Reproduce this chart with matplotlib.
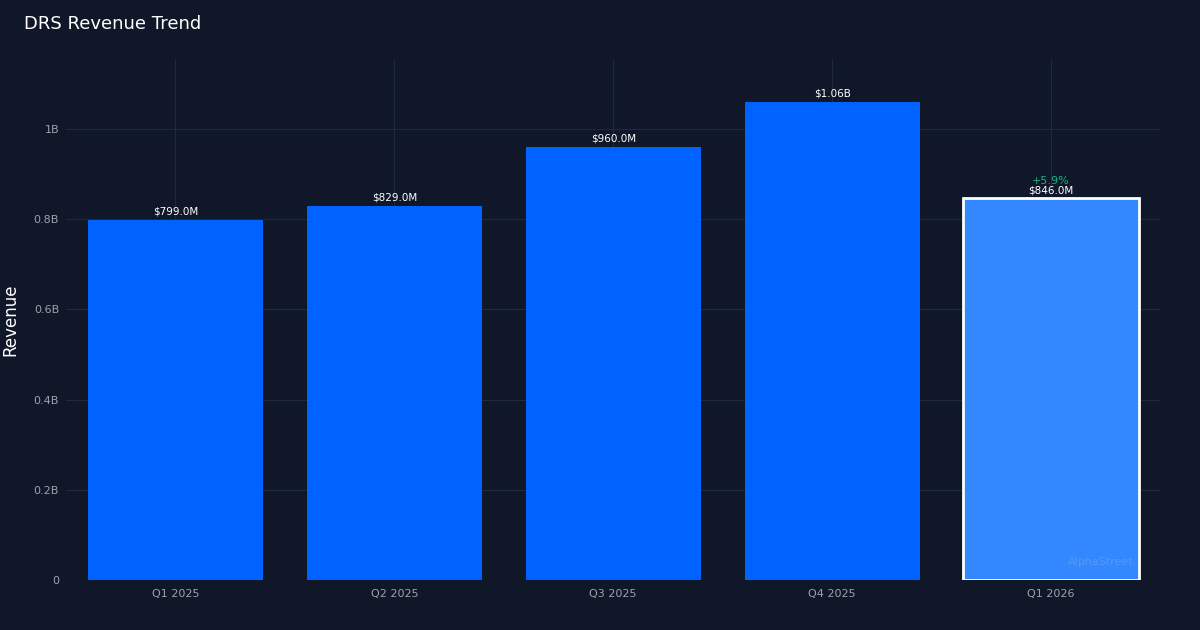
import matplotlib
matplotlib.use("Agg")
import matplotlib.pyplot as plt
from matplotlib.ticker import FuncFormatter

categories = ["Q1 2025", "Q2 2025", "Q3 2025", "Q4 2025", "Q1 2026"]
revenue = [799.0e6, 829.0e6, 960.0e6, 1060.0e6, 846.0e6]
labels = ["$799.0M", "$829.0M", "$960.0M", "$1.06B", "$846.0M"]
growth_label = "+5.9%"

bg = "#0f1729"
fig = plt.figure(figsize=(12, 6.3), dpi=100, facecolor=bg)
ax = fig.add_axes([0.055, 0.079, 0.912, 0.826], facecolor=bg)

x = range(len(categories))
colors = ["#0062ff"] * 4 + ["#3388ff"]
bars = ax.bar(x, revenue, width=0.8, color=colors, zorder=2)
bars[-1].set_edgecolor("white")
bars[-1].set_linewidth(2)

for i, (v, t) in enumerate(zip(revenue, labels)):
    ax.text(i, v + 0.007e9, t, ha="center", va="bottom", color="white", fontsize=7.5, zorder=4)
ax.text(4, revenue[4] + 0.027e9, growth_label, ha="center", va="bottom", color="#10b981", fontsize=8, zorder=3)
ax.text(4.38, 0.04e9, "AlphaStreet", ha="right", va="center", color="#6a9ee8", alpha=0.7, fontsize=8, zorder=3)

ax.set_xlim(-0.5, 4.5)
ax.set_ylim(0, 1.153e9)
ax.set_xticks(list(x))
ax.set_xticklabels(categories)
ax.set_yticks([0, 0.2e9, 0.4e9, 0.6e9, 0.8e9, 1.0e9])
ax.yaxis.set_major_formatter(FuncFormatter(lambda v, p: "0" if v == 0 else ("1B" if v == 1e9 else f"{v/1e9:.1f}B")))
ax.tick_params(colors="#9ca3af", labelsize=8, length=0)
ax.tick_params(axis="x", pad=6)
ax.tick_params(axis="y", pad=5)
ax.grid(True, color="#1f2a3c", linewidth=0.8, zorder=0)
for s in ax.spines.values():
    s.set_visible(False)
ax.axhline(0, color="#2a3447", linewidth=0.8, zorder=1)
ax.set_ylabel("Revenue", color="white", fontsize=12, labelpad=10)
fig.text(0.02, 0.962, "DRS Revenue Trend", color="white", fontsize=13, va="center")
fig.savefig("out.png", dpi=100, facecolor=bg)
